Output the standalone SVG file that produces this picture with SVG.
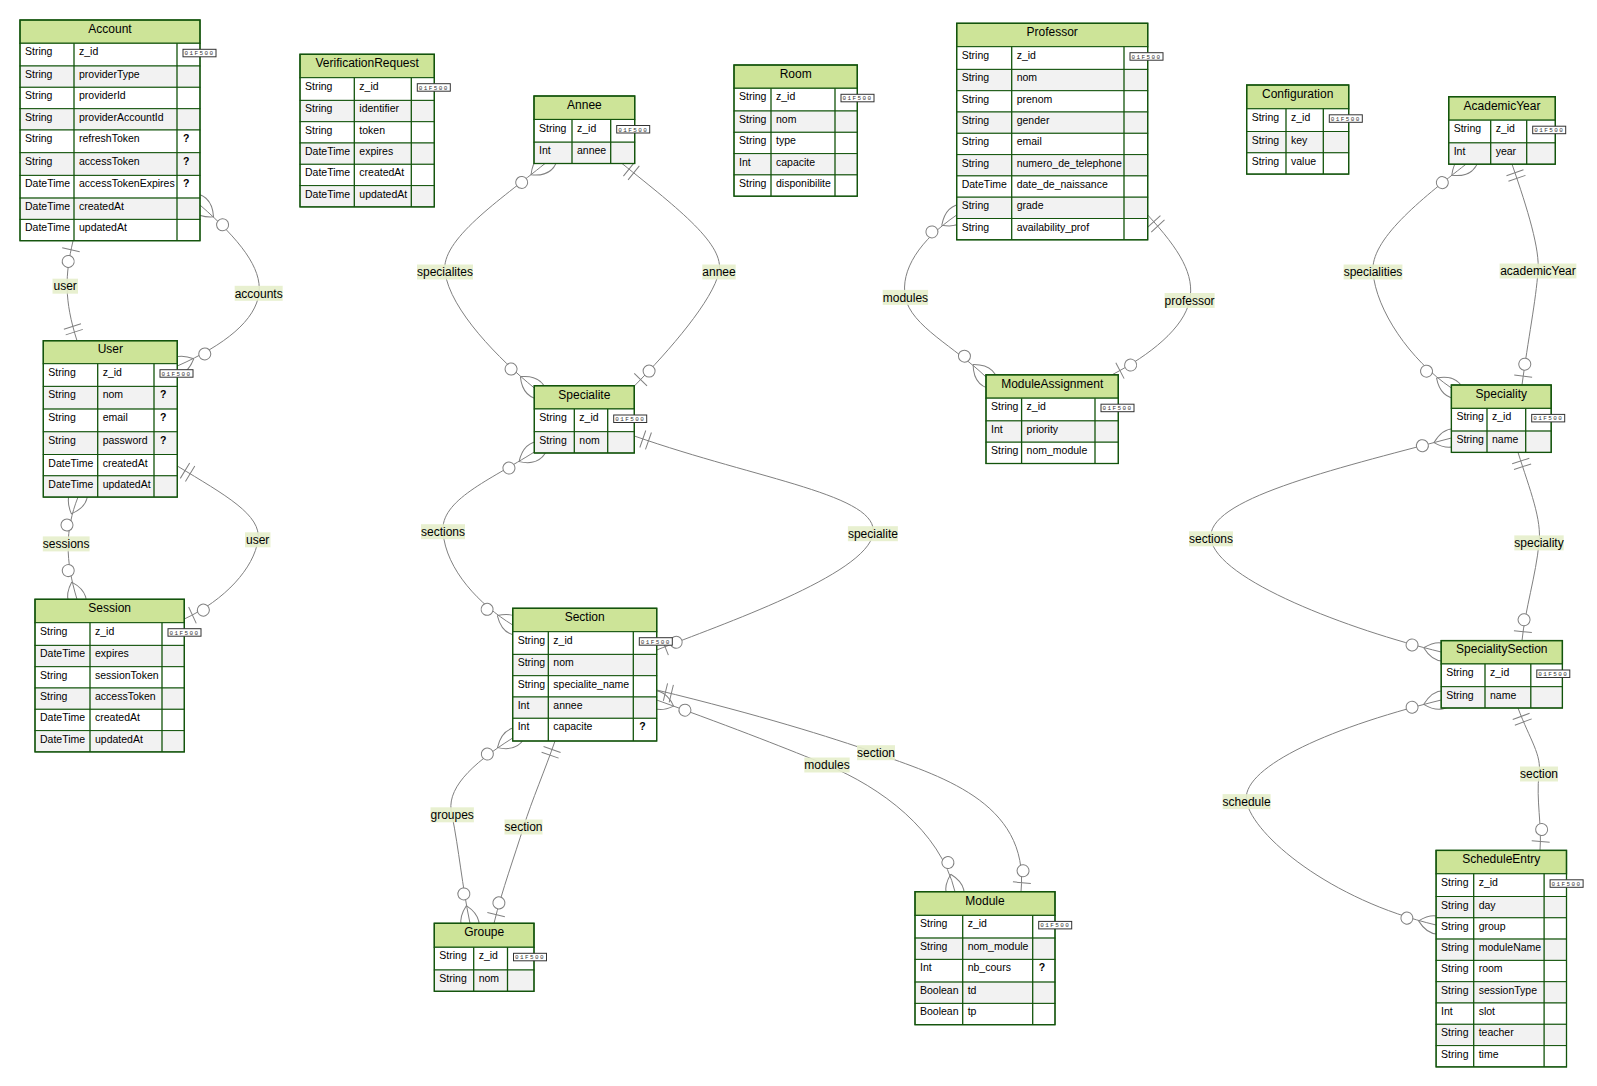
<svg xmlns="http://www.w3.org/2000/svg" width="1597" height="1086" viewBox="0 0 1597 1086">
<style>
  .hd{fill:#cde498;stroke:#13540c;stroke-width:1.3}
  .r1{fill:#ffffff;stroke:#13540c;stroke-width:1}
  .r2{fill:#f2f2f2;stroke:#13540c;stroke-width:1}
  .gl{fill:none;stroke:#13540c;stroke-width:1.3}
  .bd{fill:none;stroke:#13540c;stroke-width:1.3}
  .h{font-family:"Liberation Sans",Arial,sans-serif;font-size:12px;text-anchor:middle;fill:#000}
  .a{font-family:"Liberation Sans",Arial,sans-serif;font-size:10.5px;fill:#000}
  .q{font-family:"Liberation Sans",Arial,sans-serif;font-size:10.5px;font-weight:bold;fill:#000}
  .kb{fill:#ffffff;stroke:#333;stroke-width:1}
  .kt{font-family:"Liberation Mono",monospace;font-size:6px;letter-spacing:1.4px;fill:#333;text-anchor:middle}
  .rel{fill:none;stroke:#808080;stroke-width:1}
  .mk{fill:none;stroke:#808080;stroke-width:1}
  .mc{fill:#ffffff;stroke:#808080;stroke-width:1}
  .lb{fill:#e6eecb;opacity:0.9}
  .lt{font-family:"Liberation Sans",Arial,sans-serif;font-size:12px;text-anchor:middle;fill:#000}
</style>
<defs>
  <marker id="zoStart" markerWidth="30" markerHeight="18" refX="0" refY="9" orient="auto" markerUnits="userSpaceOnUse" overflow="visible">
    <circle class="mc" cx="21" cy="9" r="6"/><path class="mk" d="M9,0L9,18"/>
  </marker>
  <marker id="zoEnd" markerWidth="30" markerHeight="18" refX="30" refY="9" orient="auto" markerUnits="userSpaceOnUse" overflow="visible">
    <circle class="mc" cx="9" cy="9" r="6"/><path class="mk" d="M21,0L21,18"/>
  </marker>
  <marker id="ooStart" markerWidth="18" markerHeight="18" refX="0" refY="9" orient="auto" markerUnits="userSpaceOnUse" overflow="visible">
    <path class="mk" d="M9,0L9,18M15,0L15,18"/>
  </marker>
  <marker id="ooEnd" markerWidth="18" markerHeight="18" refX="18" refY="9" orient="auto" markerUnits="userSpaceOnUse" overflow="visible">
    <path class="mk" d="M3,0L3,18M9,0L9,18"/>
  </marker>
  <marker id="zmStart" markerWidth="57" markerHeight="36" refX="18" refY="18" orient="auto" markerUnits="userSpaceOnUse" overflow="visible">
    <circle class="mc" cx="48" cy="18" r="6"/><path class="mk" d="M0,18Q18,0 36,18Q18,36 0,18"/>
  </marker>
  <marker id="zmEnd" markerWidth="57" markerHeight="36" refX="39" refY="18" orient="auto" markerUnits="userSpaceOnUse" overflow="visible">
    <circle class="mc" cx="9" cy="18" r="6"/><path class="mk" d="M21,18Q39,0 57,18Q39,36 21,18"/>
  </marker>
</defs>
<rect x="0" y="0" width="1597" height="1086" fill="#ffffff"/>

<!-- relationships, drawn under the entity boxes -->
<g id="relationships">
  <path class="rel" d="M73,241 C65,275 64,300 77,340.7" marker-start="url(#zoStart)" marker-end="url(#ooEnd)"/>
  <path class="rel" d="M200,205 C240,240 262,268 259,293 C256,320 225,345 177.3,366" marker-start="url(#zmStart)" marker-end="url(#zmEnd)"/>
  <path class="rel" d="M78,497.1 C65,530 65,560 77,599.3" marker-start="url(#zmStart)" marker-end="url(#zmEnd)"/>
  <path class="rel" d="M177.3,466 C225,495 262,515 258,540 C254,568 225,600 184.3,619" marker-start="url(#ooStart)" marker-end="url(#zoEnd)"/>
  <path class="rel" d="M545,163.5 C500,200 440,240 445,272 C450,310 500,360 534.3,388" marker-start="url(#zmStart)" marker-end="url(#zmEnd)"/>
  <path class="rel" d="M622,163.5 C680,210 725,245 719,272 C713,300 670,350 634.3,386" marker-start="url(#ooStart)" marker-end="url(#zoEnd)"/>
  <path class="rel" d="M534.3,452 C490,480 440,500 443,532 C446,570 480,605 512.7,625" marker-start="url(#zmStart)" marker-end="url(#zmEnd)"/>
  <path class="rel" d="M634.3,436 C760,480 880,495 873,534 C866,575 720,625 656.7,650" marker-start="url(#ooStart)" marker-end="url(#zoEnd)"/>
  <path class="rel" d="M512.7,738 C470,765 445,790 452,815 C459,850 462,885 470,923.3" marker-start="url(#zmStart)" marker-end="url(#zmEnd)"/>
  <path class="rel" d="M555,741 C545,770 532,800 523.5,827 C515,855 502,890 494,923.3" marker-start="url(#ooStart)" marker-end="url(#zoEnd)"/>
  <path class="rel" d="M656.7,700 C740,730 790,750 827,765 C880,787 940,830 955,891.7" marker-start="url(#zmStart)" marker-end="url(#zmEnd)"/>
  <path class="rel" d="M656.7,690 C760,715 830,737 876,753 C935,775 1030,800 1021,891.7" marker-start="url(#ooStart)" marker-end="url(#zoEnd)"/>
  <path class="rel" d="M956.7,215 C920,240 900,270 905.4,297.4 C911,326 955,347 986,377" marker-start="url(#zmStart)" marker-end="url(#zmEnd)"/>
  <path class="rel" d="M1147.7,215 C1180,250 1195,275 1189.6,300.5 C1184,328 1150,355 1112,374.8" marker-start="url(#ooStart)" marker-end="url(#zoEnd)"/>
  <path class="rel" d="M1466,164.2 C1420,200 1370,240 1373,272 C1376,310 1410,360 1451.4,388" marker-start="url(#zmStart)" marker-end="url(#zmEnd)"/>
  <path class="rel" d="M1512,164.2 C1528,210 1540,250 1538,271 C1536,300 1528,340 1522,385" marker-start="url(#ooStart)" marker-end="url(#zoEnd)"/>
  <path class="rel" d="M1451.4,438 C1330,470 1205,500 1211,539 C1217,580 1350,630 1441.2,652" marker-start="url(#zmStart)" marker-end="url(#zmEnd)"/>
  <path class="rel" d="M1518,452.4 C1530,490 1542,520 1539,543 C1536,575 1525,610 1522,640.6" marker-start="url(#ooStart)" marker-end="url(#zoEnd)"/>
  <path class="rel" d="M1441.2,700 C1320,730 1240,770 1246.6,801.6 C1253,835 1330,900 1436.1,925" marker-start="url(#zmStart)" marker-end="url(#zmEnd)"/>
  <path class="rel" d="M1518,708 C1530,740 1542,755 1539,774 C1536,800 1542,825 1540,850.4" marker-start="url(#ooStart)" marker-end="url(#zoEnd)"/>

  <rect class="lb" x="52.5" y="278.7" width="25.5" height="15"/><text class="lt" x="65.2" y="290.4">user</text>
  <rect class="lb" x="234.7" y="285.8" width="48" height="15"/><text class="lt" x="258.7" y="297.5">accounts</text>
  <rect class="lb" x="42.8" y="536.4" width="46.8" height="15"/><text class="lt" x="66.2" y="548.1">sessions</text>
  <rect class="lb" x="245" y="532.3" width="25.5" height="15"/><text class="lt" x="257.7" y="544">user</text>
  <rect class="lb" x="417" y="264.5" width="56" height="15"/><text class="lt" x="445" y="276.2">specialites</text>
  <rect class="lb" x="702.3" y="264.5" width="33.4" height="15"/><text class="lt" x="719" y="276.2">annee</text>
  <rect class="lb" x="421" y="524.2" width="44" height="15"/><text class="lt" x="443" y="535.9">sections</text>
  <rect class="lb" x="847.9" y="526.2" width="50" height="15"/><text class="lt" x="872.9" y="537.9">specialite</text>
  <rect class="lb" x="430.5" y="807.3" width="43.4" height="15"/><text class="lt" x="452.2" y="819">groupes</text>
  <rect class="lb" x="504.5" y="819.5" width="38" height="15"/><text class="lt" x="523.5" y="831.2">section</text>
  <rect class="lb" x="804.3" y="757.5" width="45.4" height="15"/><text class="lt" x="827" y="769.2">modules</text>
  <rect class="lb" x="857" y="745.2" width="38" height="15"/><text class="lt" x="876" y="756.9">section</text>
  <rect class="lb" x="882.7" y="289.9" width="45.4" height="15"/><text class="lt" x="905.4" y="301.6">modules</text>
  <rect class="lb" x="1164.6" y="293" width="50" height="15"/><text class="lt" x="1189.6" y="304.7">professor</text>
  <rect class="lb" x="1343.6" y="264.5" width="58.8" height="15"/><text class="lt" x="1373" y="276.2">specialities</text>
  <rect class="lb" x="1499.6" y="263.5" width="76.8" height="15"/><text class="lt" x="1538" y="275.2">academicYear</text>
  <rect class="lb" x="1189" y="531.3" width="44" height="15"/><text class="lt" x="1211" y="543">sections</text>
  <rect class="lb" x="1514.3" y="535.4" width="49.4" height="15"/><text class="lt" x="1539" y="547.1">speciality</text>
  <rect class="lb" x="1222.6" y="794.1" width="48" height="15"/><text class="lt" x="1246.6" y="805.8">schedule</text>
  <rect class="lb" x="1520" y="766.5" width="38" height="15"/><text class="lt" x="1539" y="778.2">section</text>
</g>

<g id="Account">
  <rect class="hd" x="20" y="20" width="180" height="23.3"/>
  <rect class="r1" x="20" y="43.3" width="180" height="22.7"/>
  <rect class="r2" x="20" y="66" width="180" height="21.3"/>
  <rect class="r1" x="20" y="87.3" width="180" height="21.4"/>
  <rect class="r2" x="20" y="108.7" width="180" height="21.3"/>
  <rect class="r1" x="20" y="130" width="180" height="22.7"/>
  <rect class="r2" x="20" y="152.7" width="180" height="22.7"/>
  <rect class="r1" x="20" y="175.4" width="180" height="22.7"/>
  <rect class="r2" x="20" y="198.1" width="180" height="21.3"/>
  <rect class="r1" x="20" y="219.4" width="180" height="21.3"/>
  <path class="gl" d="M74,43.3V240.7M177,43.3V240.7"/>
  <rect class="bd" x="20" y="20" width="180" height="220.7"/>
  <text class="h" x="110" y="32.8">Account</text>
  <text class="a" x="25" y="55.3">String</text><text class="a" x="79" y="55.3">z_id</text>
  <text class="a" x="25" y="78">String</text><text class="a" x="79" y="78">providerType</text>
  <text class="a" x="25" y="99.3">String</text><text class="a" x="79" y="99.3">providerId</text>
  <text class="a" x="25" y="120.7">String</text><text class="a" x="79" y="120.7">providerAccountId</text>
  <text class="a" x="25" y="142">String</text><text class="a" x="79" y="142">refreshToken</text><text class="q" x="183" y="142">?</text>
  <text class="a" x="25" y="164.7">String</text><text class="a" x="79" y="164.7">accessToken</text><text class="q" x="183" y="164.7">?</text>
  <text class="a" x="25" y="187.4">DateTime</text><text class="a" x="79" y="187.4">accessTokenExpires</text><text class="q" x="183" y="187.4">?</text>
  <text class="a" x="25" y="210.1">DateTime</text><text class="a" x="79" y="210.1">createdAt</text>
  <text class="a" x="25" y="231.4">DateTime</text><text class="a" x="79" y="231.4">updatedAt</text>
  <rect class="kb" x="183" y="49.3" width="33" height="7.5"/><text class="kt" x="199.5" y="55.3">01F500</text>
</g>

<g id="User">
  <rect class="hd" x="43.3" y="340.7" width="134" height="23"/>
  <rect class="r1" x="43.3" y="363.7" width="134" height="22.7"/>
  <rect class="r2" x="43.3" y="386.4" width="134" height="22.7"/>
  <rect class="r1" x="43.3" y="409.1" width="134" height="22.7"/>
  <rect class="r2" x="43.3" y="431.8" width="134" height="22.7"/>
  <rect class="r1" x="43.3" y="454.5" width="134" height="21.3"/>
  <rect class="r2" x="43.3" y="475.8" width="134" height="21.3"/>
  <path class="gl" d="M97.7,363.7V497.1M154,363.7V497.1"/>
  <rect class="bd" x="43.3" y="340.7" width="134" height="156.4"/>
  <text class="h" x="110.3" y="353.4">User</text>
  <text class="a" x="48.3" y="375.7">String</text><text class="a" x="102.7" y="375.7">z_id</text>
  <text class="a" x="48.3" y="398.4">String</text><text class="a" x="102.7" y="398.4">nom</text><text class="q" x="160" y="398.4">?</text>
  <text class="a" x="48.3" y="421.1">String</text><text class="a" x="102.7" y="421.1">email</text><text class="q" x="160" y="421.1">?</text>
  <text class="a" x="48.3" y="443.8">String</text><text class="a" x="102.7" y="443.8">password</text><text class="q" x="160" y="443.8">?</text>
  <text class="a" x="48.3" y="466.5">DateTime</text><text class="a" x="102.7" y="466.5">createdAt</text>
  <text class="a" x="48.3" y="487.8">DateTime</text><text class="a" x="102.7" y="487.8">updatedAt</text>
  <rect class="kb" x="160" y="369.7" width="33" height="7.5"/><text class="kt" x="176.5" y="375.7">01F500</text>
</g>

<g id="Session">
  <rect class="hd" x="35" y="599.3" width="149.3" height="23.4"/>
  <rect class="r1" x="35" y="622.7" width="149.3" height="22.7"/>
  <rect class="r2" x="35" y="645.4" width="149.3" height="21.3"/>
  <rect class="r1" x="35" y="666.7" width="149.3" height="21.3"/>
  <rect class="r2" x="35" y="688" width="149.3" height="21.3"/>
  <rect class="r1" x="35" y="709.3" width="149.3" height="21.3"/>
  <rect class="r2" x="35" y="730.6" width="149.3" height="21.3"/>
  <path class="gl" d="M90,622.7V751.9M162,622.7V751.9"/>
  <rect class="bd" x="35" y="599.3" width="149.3" height="152.6"/>
  <text class="h" x="109.7" y="612.1">Session</text>
  <text class="a" x="40" y="634.7">String</text><text class="a" x="95" y="634.7">z_id</text>
  <text class="a" x="40" y="657.4">DateTime</text><text class="a" x="95" y="657.4">expires</text>
  <text class="a" x="40" y="678.7">String</text><text class="a" x="95" y="678.7">sessionToken</text>
  <text class="a" x="40" y="700">String</text><text class="a" x="95" y="700">accessToken</text>
  <text class="a" x="40" y="721.3">DateTime</text><text class="a" x="95" y="721.3">createdAt</text>
  <text class="a" x="40" y="742.6">DateTime</text><text class="a" x="95" y="742.6">updatedAt</text>
  <rect class="kb" x="168" y="628.7" width="33" height="7.5"/><text class="kt" x="184.5" y="634.7">01F500</text>
</g>

<g id="VerificationRequest">
  <rect class="hd" x="300" y="54.3" width="134.3" height="23.4"/>
  <rect class="r1" x="300" y="77.7" width="134.3" height="22.7"/>
  <rect class="r2" x="300" y="100.4" width="134.3" height="21.3"/>
  <rect class="r1" x="300" y="121.7" width="134.3" height="21.3"/>
  <rect class="r2" x="300" y="143" width="134.3" height="21.3"/>
  <rect class="r1" x="300" y="164.3" width="134.3" height="21.3"/>
  <rect class="r2" x="300" y="185.6" width="134.3" height="21.3"/>
  <path class="gl" d="M354.3,77.7V206.9M411.3,77.7V206.9"/>
  <rect class="bd" x="300" y="54.3" width="134.3" height="152.6"/>
  <text class="h" x="367.2" y="67.1">VerificationRequest</text>
  <text class="a" x="305" y="89.7">String</text><text class="a" x="359.3" y="89.7">z_id</text>
  <text class="a" x="305" y="112.4">String</text><text class="a" x="359.3" y="112.4">identifier</text>
  <text class="a" x="305" y="133.7">String</text><text class="a" x="359.3" y="133.7">token</text>
  <text class="a" x="305" y="155">DateTime</text><text class="a" x="359.3" y="155">expires</text>
  <text class="a" x="305" y="176.3">DateTime</text><text class="a" x="359.3" y="176.3">createdAt</text>
  <text class="a" x="305" y="197.6">DateTime</text><text class="a" x="359.3" y="197.6">updatedAt</text>
  <rect class="kb" x="417.3" y="83.7" width="33" height="7.5"/><text class="kt" x="433.8" y="89.7">01F500</text>
</g>

<g id="Annee">
  <rect class="hd" x="534" y="96" width="100.7" height="23.5"/>
  <rect class="r1" x="534" y="119.5" width="100.7" height="22.7"/>
  <rect class="r2" x="534" y="142.2" width="100.7" height="21.3"/>
  <path class="gl" d="M572,119.5V163.5M610.7,119.5V163.5"/>
  <rect class="bd" x="534" y="96" width="100.7" height="67.5"/>
  <text class="h" x="584.4" y="108.8">Annee</text>
  <text class="a" x="539" y="131.5">String</text><text class="a" x="577" y="131.5">z_id</text>
  <text class="a" x="539" y="154.2">Int</text><text class="a" x="577" y="154.2">annee</text>
  <rect class="kb" x="616.7" y="125.5" width="33" height="7.5"/><text class="kt" x="633.2" y="131.5">01F500</text>
</g>

<g id="Room">
  <rect class="hd" x="734" y="65" width="123.3" height="23.3"/>
  <rect class="r1" x="734" y="88.3" width="123.3" height="22.7"/>
  <rect class="r2" x="734" y="111" width="123.3" height="21.3"/>
  <rect class="r1" x="734" y="132.3" width="123.3" height="21.3"/>
  <rect class="r2" x="734" y="153.6" width="123.3" height="21.3"/>
  <rect class="r1" x="734" y="174.9" width="123.3" height="21.3"/>
  <path class="gl" d="M771,88.3V196.2M835,88.3V196.2"/>
  <rect class="bd" x="734" y="65" width="123.3" height="131.2"/>
  <text class="h" x="795.7" y="77.8">Room</text>
  <text class="a" x="739" y="100.3">String</text><text class="a" x="776" y="100.3">z_id</text>
  <text class="a" x="739" y="123">String</text><text class="a" x="776" y="123">nom</text>
  <text class="a" x="739" y="144.3">String</text><text class="a" x="776" y="144.3">type</text>
  <text class="a" x="739" y="165.6">Int</text><text class="a" x="776" y="165.6">capacite</text>
  <text class="a" x="739" y="186.9">String</text><text class="a" x="776" y="186.9">disponibilite</text>
  <rect class="kb" x="841" y="94.3" width="33" height="7.5"/><text class="kt" x="857.5" y="100.3">01F500</text>
</g>

<g id="Professor">
  <rect class="hd" x="956.7" y="23.3" width="191" height="23.4"/>
  <rect class="r1" x="956.7" y="46.7" width="191" height="22.7"/>
  <rect class="r2" x="956.7" y="69.4" width="191" height="21.3"/>
  <rect class="r1" x="956.7" y="90.7" width="191" height="21.3"/>
  <rect class="r2" x="956.7" y="112" width="191" height="21.3"/>
  <rect class="r1" x="956.7" y="133.3" width="191" height="21.3"/>
  <rect class="r2" x="956.7" y="154.6" width="191" height="21.3"/>
  <rect class="r1" x="956.7" y="175.9" width="191" height="21.3"/>
  <rect class="r2" x="956.7" y="197.2" width="191" height="21.3"/>
  <rect class="r1" x="956.7" y="218.5" width="191" height="21.3"/>
  <path class="gl" d="M1011.7,46.7V239.8M1124,46.7V239.8"/>
  <rect class="bd" x="956.7" y="23.3" width="191" height="216.5"/>
  <text class="h" x="1052.2" y="36.1">Professor</text>
  <text class="a" x="961.7" y="58.7">String</text><text class="a" x="1016.7" y="58.7">z_id</text>
  <text class="a" x="961.7" y="81.4">String</text><text class="a" x="1016.7" y="81.4">nom</text>
  <text class="a" x="961.7" y="102.7">String</text><text class="a" x="1016.7" y="102.7">prenom</text>
  <text class="a" x="961.7" y="124">String</text><text class="a" x="1016.7" y="124">gender</text>
  <text class="a" x="961.7" y="145.3">String</text><text class="a" x="1016.7" y="145.3">email</text>
  <text class="a" x="961.7" y="166.6">String</text><text class="a" x="1016.7" y="166.6">numero_de_telephone</text>
  <text class="a" x="961.7" y="187.9">DateTime</text><text class="a" x="1016.7" y="187.9">date_de_naissance</text>
  <text class="a" x="961.7" y="209.2">String</text><text class="a" x="1016.7" y="209.2">grade</text>
  <text class="a" x="961.7" y="230.5">String</text><text class="a" x="1016.7" y="230.5">availability_prof</text>
  <rect class="kb" x="1130" y="52.7" width="33" height="7.5"/><text class="kt" x="1146.5" y="58.7">01F500</text>
</g>

<g id="Configuration">
  <rect class="hd" x="1246.7" y="85" width="102" height="23.8"/>
  <rect class="r1" x="1246.7" y="108.8" width="102" height="22.7"/>
  <rect class="r2" x="1246.7" y="131.5" width="102" height="21.3"/>
  <rect class="r1" x="1246.7" y="152.8" width="102" height="21.3"/>
  <path class="gl" d="M1286,108.8V174.1M1323.3,108.8V174.1"/>
  <rect class="bd" x="1246.7" y="85" width="102" height="89.1"/>
  <text class="h" x="1297.7" y="97.8">Configuration</text>
  <text class="a" x="1251.7" y="120.8">String</text><text class="a" x="1291" y="120.8">z_id</text>
  <text class="a" x="1251.7" y="143.5">String</text><text class="a" x="1291" y="143.5">key</text>
  <text class="a" x="1251.7" y="164.8">String</text><text class="a" x="1291" y="164.8">value</text>
  <rect class="kb" x="1329.3" y="114.8" width="33" height="7.5"/><text class="kt" x="1345.8" y="120.8">01F500</text>
</g>

<g id="AcademicYear">
  <rect class="hd" x="1448.7" y="96.7" width="106.6" height="23.5"/>
  <rect class="r1" x="1448.7" y="120.2" width="106.6" height="22.7"/>
  <rect class="r2" x="1448.7" y="142.9" width="106.6" height="21.3"/>
  <path class="gl" d="M1490.7,120.2V164.2M1526.7,120.2V164.2"/>
  <rect class="bd" x="1448.7" y="96.7" width="106.6" height="67.5"/>
  <text class="h" x="1502" y="109.5">AcademicYear</text>
  <text class="a" x="1453.7" y="132.2">String</text><text class="a" x="1495.7" y="132.2">z_id</text>
  <text class="a" x="1453.7" y="154.9">Int</text><text class="a" x="1495.7" y="154.9">year</text>
  <rect class="kb" x="1532.7" y="126.2" width="33" height="7.5"/><text class="kt" x="1549.2" y="132.2">01F500</text>
</g>

<g id="Specialite">
  <rect class="hd" x="534.3" y="385.7" width="100" height="23.3"/>
  <rect class="r1" x="534.3" y="409" width="100" height="22.7"/>
  <rect class="r2" x="534.3" y="431.7" width="100" height="21.3"/>
  <path class="gl" d="M574.3,409V453M607.7,409V453"/>
  <rect class="bd" x="534.3" y="385.7" width="100" height="67.3"/>
  <text class="h" x="584.3" y="398.5">Specialite</text>
  <text class="a" x="539.3" y="421">String</text><text class="a" x="579.3" y="421">z_id</text>
  <text class="a" x="539.3" y="443.7">String</text><text class="a" x="579.3" y="443.7">nom</text>
  <rect class="kb" x="613.7" y="415" width="33" height="7.5"/><text class="kt" x="630.2" y="421">01F500</text>
</g>

<g id="Section">
  <rect class="hd" x="512.7" y="608.3" width="144" height="23.4"/>
  <rect class="r1" x="512.7" y="631.7" width="144" height="22.7"/>
  <rect class="r2" x="512.7" y="654.4" width="144" height="21.3"/>
  <rect class="r1" x="512.7" y="675.7" width="144" height="21.3"/>
  <rect class="r2" x="512.7" y="697" width="144" height="21.3"/>
  <rect class="r1" x="512.7" y="718.3" width="144" height="22.7"/>
  <path class="gl" d="M548.3,631.7V741M633.3,631.7V741"/>
  <rect class="bd" x="512.7" y="608.3" width="144" height="132.7"/>
  <text class="h" x="584.7" y="621.1">Section</text>
  <text class="a" x="517.7" y="643.7">String</text><text class="a" x="553.3" y="643.7">z_id</text>
  <text class="a" x="517.7" y="666.4">String</text><text class="a" x="553.3" y="666.4">nom</text>
  <text class="a" x="517.7" y="687.7">String</text><text class="a" x="553.3" y="687.7">specialite_name</text>
  <text class="a" x="517.7" y="709">Int</text><text class="a" x="553.3" y="709">annee</text>
  <text class="a" x="517.7" y="730.3">Int</text><text class="a" x="553.3" y="730.3">capacite</text><text class="q" x="639.3" y="730.3">?</text>
  <rect class="kb" x="639.3" y="637.7" width="33" height="7.5"/><text class="kt" x="655.8" y="643.7">01F500</text>
</g>

<g id="Groupe">
  <rect class="hd" x="434.3" y="923.3" width="99.7" height="24"/>
  <rect class="r1" x="434.3" y="947.3" width="99.7" height="22.7"/>
  <rect class="r2" x="434.3" y="970" width="99.7" height="21.3"/>
  <path class="gl" d="M473.7,947.3V991.3M507.5,947.3V991.3"/>
  <rect class="bd" x="434.3" y="923.3" width="99.7" height="68"/>
  <text class="h" x="484.2" y="936.3">Groupe</text>
  <text class="a" x="439.3" y="959.3">String</text><text class="a" x="478.7" y="959.3">z_id</text>
  <text class="a" x="439.3" y="982">String</text><text class="a" x="478.7" y="982">nom</text>
  <rect class="kb" x="513.5" y="953.3" width="33" height="7.5"/><text class="kt" x="530" y="959.3">01F500</text>
</g>

<g id="Module">
  <rect class="hd" x="915" y="891.7" width="140" height="23.7"/>
  <rect class="r1" x="915" y="915.4" width="140" height="22.7"/>
  <rect class="r2" x="915" y="938.1" width="140" height="21.3"/>
  <rect class="r1" x="915" y="959.4" width="140" height="22.7"/>
  <rect class="r2" x="915" y="982.1" width="140" height="21.3"/>
  <rect class="r1" x="915" y="1003.4" width="140" height="21.3"/>
  <path class="gl" d="M962.7,915.4V1024.7M1032.7,915.4V1024.7"/>
  <rect class="bd" x="915" y="891.7" width="140" height="133"/>
  <text class="h" x="985" y="904.5">Module</text>
  <text class="a" x="920" y="927.4">String</text><text class="a" x="967.7" y="927.4">z_id</text>
  <text class="a" x="920" y="950.1">String</text><text class="a" x="967.7" y="950.1">nom_module</text>
  <text class="a" x="920" y="971.4">Int</text><text class="a" x="967.7" y="971.4">nb_cours</text><text class="q" x="1038.7" y="971.4">?</text>
  <text class="a" x="920" y="994.1">Boolean</text><text class="a" x="967.7" y="994.1">td</text>
  <text class="a" x="920" y="1015.4">Boolean</text><text class="a" x="967.7" y="1015.4">tp</text>
  <rect class="kb" x="1038.7" y="921.4" width="33" height="7.5"/><text class="kt" x="1055.2" y="927.4">01F500</text>
</g>

<g id="ModuleAssignment">
  <rect class="hd" x="986" y="374.8" width="132.3" height="23.4"/>
  <rect class="r1" x="986" y="398.2" width="132.3" height="22.7"/>
  <rect class="r2" x="986" y="420.9" width="132.3" height="21.3"/>
  <rect class="r1" x="986" y="442.2" width="132.3" height="21.3"/>
  <path class="gl" d="M1021.6,398.2V463.5M1095,398.2V463.5"/>
  <rect class="bd" x="986" y="374.8" width="132.3" height="88.7"/>
  <text class="h" x="1052.2" y="387.6">ModuleAssignment</text>
  <text class="a" x="991" y="410.2">String</text><text class="a" x="1026.6" y="410.2">z_id</text>
  <text class="a" x="991" y="432.9">Int</text><text class="a" x="1026.6" y="432.9">priority</text>
  <text class="a" x="991" y="454.2">String</text><text class="a" x="1026.6" y="454.2">nom_module</text>
  <rect class="kb" x="1101" y="404.2" width="33" height="7.5"/><text class="kt" x="1117.5" y="410.2">01F500</text>
</g>

<g id="Speciality">
  <rect class="hd" x="1451.4" y="385" width="99.8" height="23.4"/>
  <rect class="r1" x="1451.4" y="408.4" width="99.8" height="22.7"/>
  <rect class="r2" x="1451.4" y="431.1" width="99.8" height="21.3"/>
  <path class="gl" d="M1487,408.4V452.4M1525.7,408.4V452.4"/>
  <rect class="bd" x="1451.4" y="385" width="99.8" height="67.4"/>
  <text class="h" x="1501.3" y="397.8">Speciality</text>
  <text class="a" x="1456.4" y="420.4">String</text><text class="a" x="1492" y="420.4">z_id</text>
  <text class="a" x="1456.4" y="443.1">String</text><text class="a" x="1492" y="443.1">name</text>
  <rect class="kb" x="1531.7" y="414.4" width="33" height="7.5"/><text class="kt" x="1548.2" y="420.4">01F500</text>
</g>

<g id="SpecialitySection">
  <rect class="hd" x="1441.2" y="640.6" width="121.2" height="23.4"/>
  <rect class="r1" x="1441.2" y="664" width="121.2" height="22.7"/>
  <rect class="r2" x="1441.2" y="686.7" width="121.2" height="21.3"/>
  <path class="gl" d="M1485,664V708M1530.8,664V708"/>
  <rect class="bd" x="1441.2" y="640.6" width="121.2" height="67.4"/>
  <text class="h" x="1501.8" y="653.4">SpecialitySection</text>
  <text class="a" x="1446.2" y="676">String</text><text class="a" x="1490" y="676">z_id</text>
  <text class="a" x="1446.2" y="698.7">String</text><text class="a" x="1490" y="698.7">name</text>
  <rect class="kb" x="1536.8" y="670" width="33" height="7.5"/><text class="kt" x="1553.3" y="676">01F500</text>
</g>

<g id="ScheduleEntry">
  <rect class="hd" x="1436.1" y="850.4" width="130.4" height="23.4"/>
  <rect class="r1" x="1436.1" y="873.8" width="130.4" height="22.7"/>
  <rect class="r2" x="1436.1" y="896.5" width="130.4" height="21.3"/>
  <rect class="r1" x="1436.1" y="917.8" width="130.4" height="21.3"/>
  <rect class="r2" x="1436.1" y="939.1" width="130.4" height="21.3"/>
  <rect class="r1" x="1436.1" y="960.4" width="130.4" height="21.3"/>
  <rect class="r2" x="1436.1" y="981.7" width="130.4" height="21.3"/>
  <rect class="r1" x="1436.1" y="1003" width="130.4" height="21.3"/>
  <rect class="r2" x="1436.1" y="1024.3" width="130.4" height="21.3"/>
  <rect class="r1" x="1436.1" y="1045.6" width="130.4" height="21.3"/>
  <path class="gl" d="M1473.7,873.8V1066.9M1544.1,873.8V1066.9"/>
  <rect class="bd" x="1436.1" y="850.4" width="130.4" height="216.5"/>
  <text class="h" x="1501.3" y="863.2">ScheduleEntry</text>
  <text class="a" x="1441.1" y="885.8">String</text><text class="a" x="1478.7" y="885.8">z_id</text>
  <text class="a" x="1441.1" y="908.5">String</text><text class="a" x="1478.7" y="908.5">day</text>
  <text class="a" x="1441.1" y="929.8">String</text><text class="a" x="1478.7" y="929.8">group</text>
  <text class="a" x="1441.1" y="951.1">String</text><text class="a" x="1478.7" y="951.1">moduleName</text>
  <text class="a" x="1441.1" y="972.4">String</text><text class="a" x="1478.7" y="972.4">room</text>
  <text class="a" x="1441.1" y="993.7">String</text><text class="a" x="1478.7" y="993.7">sessionType</text>
  <text class="a" x="1441.1" y="1015">Int</text><text class="a" x="1478.7" y="1015">slot</text>
  <text class="a" x="1441.1" y="1036.3">String</text><text class="a" x="1478.7" y="1036.3">teacher</text>
  <text class="a" x="1441.1" y="1057.6">String</text><text class="a" x="1478.7" y="1057.6">time</text>
  <rect class="kb" x="1550.1" y="879.8" width="33" height="7.5"/><text class="kt" x="1566.6" y="885.8">01F500</text>
</g>
</svg>
